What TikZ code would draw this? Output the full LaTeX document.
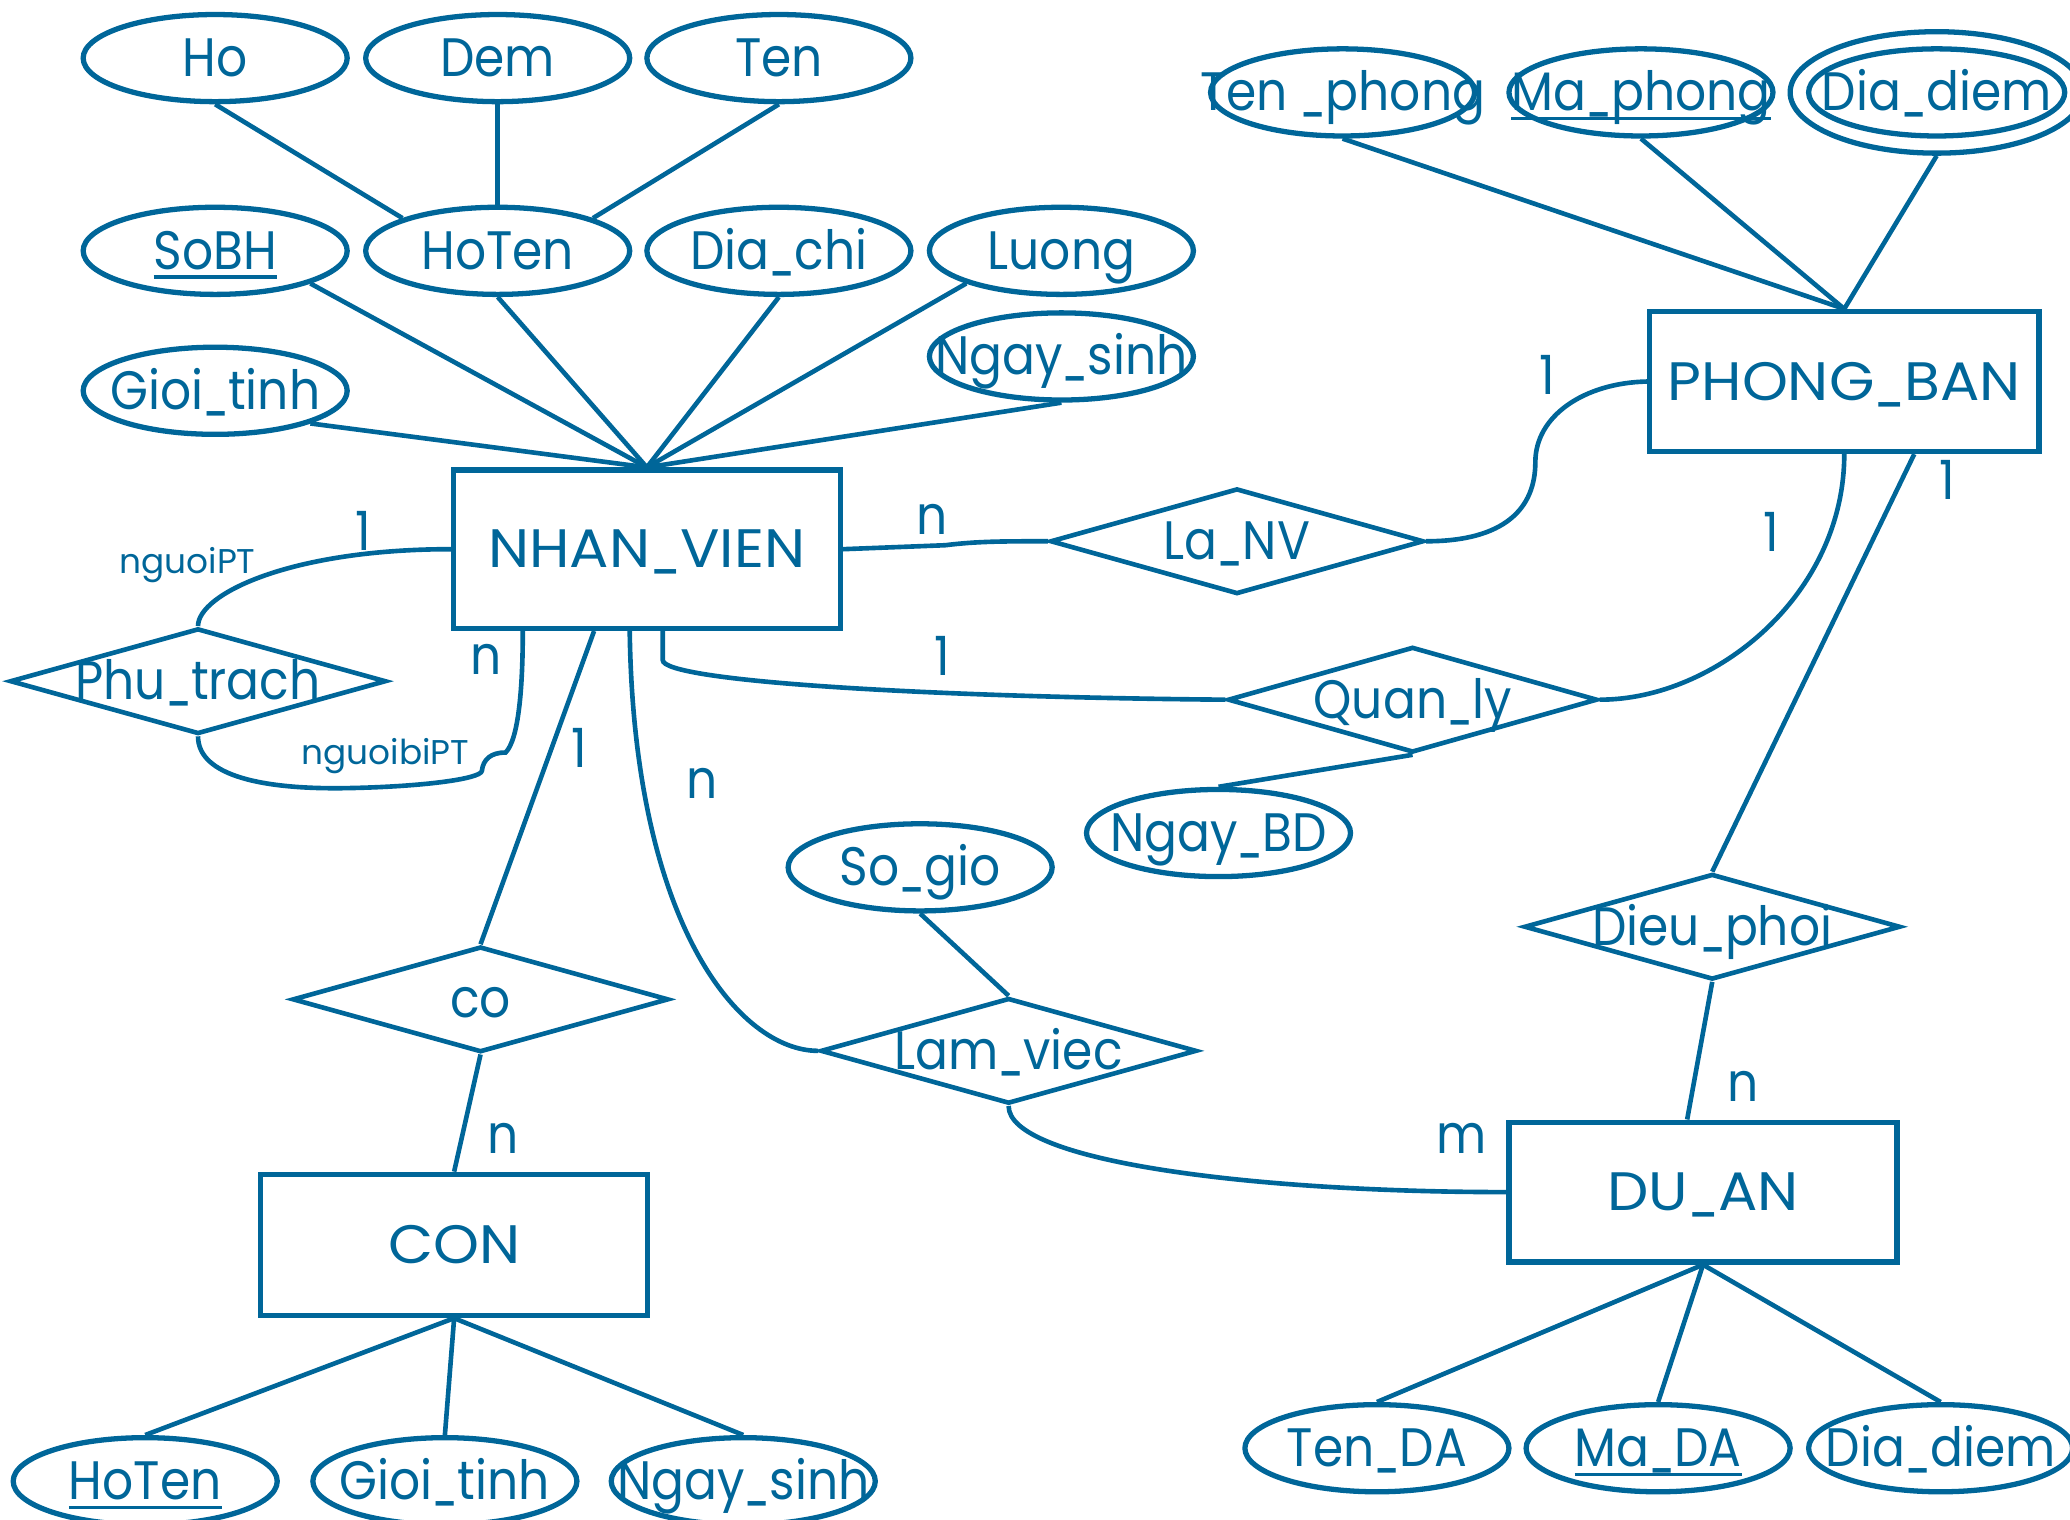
\documentclass[tikz,border=0pt]{standalone}
\usepackage{fontspec}
\usepackage{graphicx}
\setmainfont{Poppins}
\usetikzlibrary{shapes.geometric,calc}
\definecolor{erblue}{RGB}{0,102,153}
\newfontfamily\erf[FakeStretch=0.9]{Poppins}
\newfontfamily\entf[FakeStretch=1.08]{Poppins}
\newfontfamily\rolef{Poppins}
\newcommand\ulx[1]{\setbox0\hbox{#1}\rlap{\rule[-7pt]{\wd0}{2.5pt}}\box0}
\newcommand\tx[1]{\makebox[0pt]{#1}}
\newcommand\us{\scalebox{0.7}[1]{\_}}
\tikzset{
  bigtxt/.style={font=\erf\fontsize{41}{48}\selectfont, text height=28pt, text depth=0pt},
  enttxt/.style={font=\entf\fontsize{41}{48}\selectfont, text height=28pt, text depth=0pt},
  attr/.style={ellipse, draw, line width=4pt, minimum width=200pt, minimum height=66pt, inner sep=0pt, bigtxt},
  ent/.style={rectangle, draw, line width=4pt, inner sep=0pt, enttxt},
  rel/.style={diamond, draw, line width=3.5pt, minimum width=285pt, minimum height=80pt, inner sep=0pt, bigtxt},
  card/.style={bigtxt, inner sep=0pt},
  role/.style={font=\rolef\fontsize{26}{30}\selectfont, inner sep=0pt},
  conn/.style={line width=3.5pt}
}
\begin{document}
\begin{tikzpicture}[x=1pt,y=-1pt,color=erblue]
\useasboundingbox (0,0) rectangle (1568,1151);
% entities
\node[ent, minimum width=293pt, minimum height=120pt] (NV) at (490,416) {\tx{NHAN\us VIEN}};
\node[ent, minimum width=295pt, minimum height=106pt] (PB) at (1397,289) {\tx{PHONG\us BAN}};
\node[ent, minimum width=293pt, minimum height=107pt] (CON) at (344,943) {\tx{CON}};
\node[ent, minimum width=294pt, minimum height=106pt] (DA) at (1290,903) {\tx{DU\us AN}};
% attributes
\node[attr] (aHo) at (163,44) {\tx{Ho}};
\node[attr] (aDem) at (377,44) {\tx{Dem}};
\node[attr] (aTen) at (590,44) {\tx{Ten}};
\node[attr] (aSoBH) at (163,190) {\tx{\ulx{SoBH}}};
\node[attr] (aHoTen) at (377,190) {\tx{HoTen}};
\node[attr] (aDiachi) at (590,190) {\tx{Dia\us chi}};
\node[attr] (aLuong) at (804,190) {\tx{Luong}};
\node[attr] (aGioi) at (163,296) {\tx{Gioi\us tinh}};
\node[attr] (aNgay) at (804,270) {\tx{Ngay\us sinh}};
\node[attr] (aTenP) at (1017,70) {\tx{Ten \us phong}};
\node[attr] (aMaP) at (1243,70) {\tx{\ulx{Ma\us phong}}};
\node[attr, minimum width=194pt] (aDiaP) at (1467,70) {\tx{Dia\us diem}};
\node[attr, minimum width=222pt, minimum height=92pt] (aDiaPo) at (1467,70) {};
\node[attr] (aNgayBD) at (923,631) {\tx{Ngay\us BD}};
\node[attr] (aSoGio) at (697,657) {\tx{So\us gio}};
\node[attr] (cHoTen) at (110,1122) {\tx{\ulx{HoTen}}};
\node[attr] (cGioi) at (337,1122) {\tx{Gioi\us tinh}};
\node[attr] (cNgay) at (563,1122) {\tx{Ngay\us sinh}};
\node[attr] (dTen) at (1043,1097) {\tx{Ten\us DA}};
\node[attr] (dMa) at (1256,1097) {\tx{\ulx{Ma\us DA}}};
\node[attr] (dDia) at (1470,1097) {\tx{Dia\us diem}};
% relationships
\node[rel, minimum width=283pt] (rLa) at (937,410) {\tx{La\us NV}};
\node[rel] (rPhu) at (150,516) {\tx{Phu\us trach}};
\node[rel, minimum width=280pt] (rQL) at (1070,530) {\tx{Quan\us ly}};
\node[rel] (rCo) at (364,757) {\tx{co}};
\node[rel] (rLV) at (764,796) {\tx{Lam\us viec}};
\node[rel] (rDP) at (1297,702) {\tx{Dieu\us phoi}};
% attribute links
\draw[conn] (aHo.south) -- (aHoTen.north west);
\draw[conn] (aDem.south) -- (aHoTen.north);
\draw[conn] (aTen.south) -- (aHoTen.north east);
\draw[conn] (aSoBH.south east) -- (NV.north);
\draw[conn] (aHoTen.south) -- (NV.north);
\draw[conn] (aDiachi.south) -- (NV.north);
\draw[conn] (aLuong.south west) -- (NV.north);
\draw[conn] (aNgay.south) -- (NV.north);
\draw[conn] (aGioi.south east) -- (NV.north);
\draw[conn] (aTenP.south) -- (PB.north);
\draw[conn] (aMaP.south) -- (PB.north);
\draw[conn] (aDiaPo.south) -- (PB.north);
\draw[conn] (CON.south) -- (cHoTen.north);
\draw[conn] (CON.south) -- (cGioi.north);
\draw[conn] (CON.south) -- (cNgay.north);
\draw[conn] (DA.south) -- (dTen.north);
\draw[conn] (DA.south) -- (dMa.north);
\draw[conn] (DA.south) -- (dDia.north);
\draw[conn] (aNgayBD.north) -- (rQL.south);
\draw[conn] (aSoGio.south) -- (rLV.north);
% relationship links
\draw[conn] (NV.east) -- (716,413) .. controls (740,410) and (760,410) .. (rLa.west);
\draw[conn] (rLa.east) .. controls (1140,410) and (1163,385) .. (1163,350) .. controls (1163,315) and (1200,290) .. (PB.west);
\draw[conn] (PB.south) .. controls (1397,450) and (1300,530) .. (rQL.east);
\draw[conn] ([xshift=12pt]NV.south) -- (502,500) .. controls (502,516) and (700,528) .. (rQL.west);
\draw[conn] ([xshift=53pt]PB.south) -- (rDP.north);
\draw[conn] (rDP.south) -- ([xshift=-12pt]DA.north);
\draw[conn] ([xshift=-40pt]NV.south) -- (rCo.north);
\draw[conn] (rCo.south) -- (CON.north);
\draw[conn] ([xshift=-13pt]NV.south) .. controls (480,700) and (560,796) .. (rLV.west);
\draw[conn] (rLV.south) .. controls (764,880) and (950,903) .. (DA.west);
\draw[conn] (NV.west) .. controls (220,416) and (150,450) .. (rPhu.north);
\draw[conn] (rPhu.south) .. controls (150,588) and (200,598) .. (262,597) .. controls (320,596) and (364,590) .. (365,584) .. controls (366,575) and (372,570) .. (383,570) .. controls (393,560) and (396,520) .. ([xshift=-94pt]NV.south);
% cardinalities
\node[card] (c1) at (706,391) {n};
\node[card] (c2) at (1172,285) {1};
\node[card] (c3) at (1342,404) {1};
\node[card] (c4) at (714,498) {1};
\node[card] (c5) at (1475,364) {1};
\node[card] (c6) at (1320,820) {n};
\node[card] (c7) at (439,567) {1};
\node[card] (c8) at (381,860) {n};
\node[card] (c9) at (532,591) {n};
\node[card] (c10) at (1107,860) {m};
\node[card] (c11) at (275,403) {1};
\node[card] (c12) at (368,497) {n};
\node[role] (r1) at (142,428) {nguoiPT};
\node[role] (r2) at (292,573) {nguoibiPT};
\end{tikzpicture}
\end{document}
